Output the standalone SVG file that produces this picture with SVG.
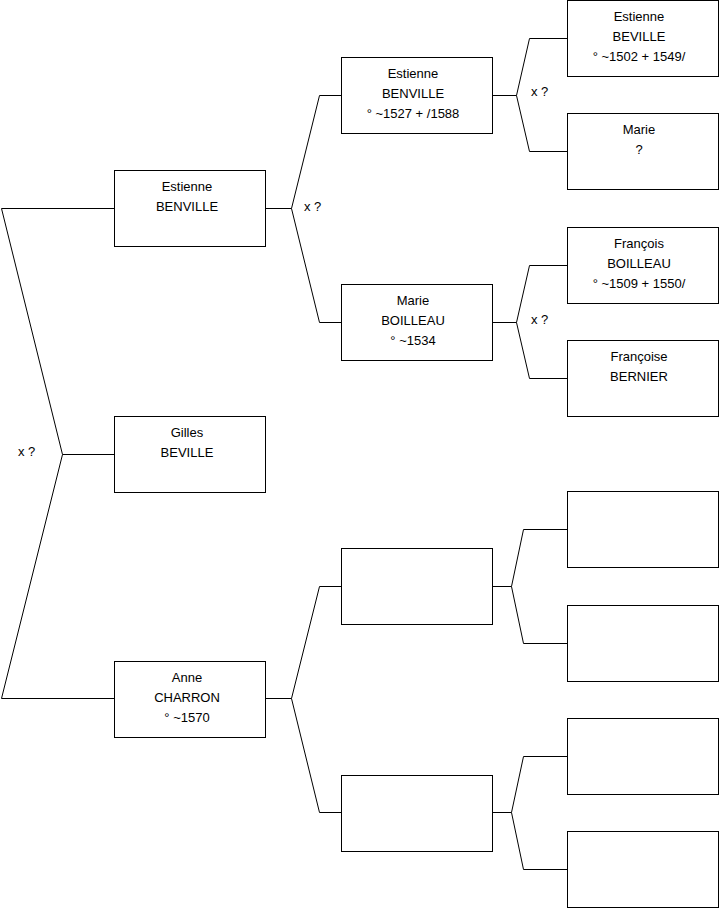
<svg xmlns="http://www.w3.org/2000/svg" width="719" height="908" viewBox="0 0 719 908">
<style>
rect.b{fill:#fff;stroke:#000;stroke-width:1}
text{font-family:"Liberation Sans",Arial,sans-serif;font-size:13px;fill:#000}
text.c{text-anchor:middle}
.l{fill:none;stroke:#000;stroke-width:1}
</style>
<rect width="719" height="908" fill="#fff"/>
<g id="connectors">
<path class="l" d="M114.5,208.5 H1.5 L62.5,454.5 L1.5,698.5 H114.5 M62.5,454.5 H114.5"/>
<path class="l" d="M265.5,208.5 H291.5 M319.5,95.5 H341 M319.5,95.5 L291.5,208.5 L319.5,322.5 H341"/>
<path class="l" d="M265.5,698.5 H291.5 M341,586.5 H319.5 L291.5,698.5 L319.5,812.5 H341"/>
<path class="l" d="M492.5,95.5 H516.5 M567,38.5 H529.5 L516.5,95.5 L529.5,151.5 H567"/>
<path class="l" d="M492.5,322.5 H516.5 M567,265.5 H529.5 L516.5,322.5 L529.5,378.5 H567"/>
<path class="l" d="M492.5,586.5 H511.5 M567,529.5 H523.5 L511.5,586.5 L523.5,643.5 H567"/>
<path class="l" d="M492.5,812.5 H511.5 M567,756.5 H523.5 L511.5,812.5 L523.5,869.5 H567"/>
<text x="18" y="456">x ?</text>
<text x="304" y="211">x ?</text>
<text x="531" y="96">x ?</text>
<text x="531" y="324">x ?</text>
</g>
<g id="n1"><rect class="b" x="114.5" y="170.5" width="151" height="76"/><text class="c" x="187" y="191">Estienne</text><text class="c" x="187" y="211">BENVILLE</text></g>
<g id="n2"><rect class="b" x="114.5" y="416.5" width="151" height="76"/><text class="c" x="187" y="437">Gilles</text><text class="c" x="187" y="457">BEVILLE</text></g>
<g id="n3"><rect class="b" x="114.5" y="661.5" width="151" height="76"/><text class="c" x="187" y="682">Anne</text><text class="c" x="187" y="702">CHARRON</text><text class="c" x="187" y="722">° ~1570</text></g>
<g id="n4"><rect class="b" x="341.5" y="57.5" width="151" height="76"/><text class="c" x="413" y="78">Estienne</text><text class="c" x="413" y="98">BENVILLE</text><text class="c" x="413" y="118">° ~1527 + /1588</text></g>
<g id="n5"><rect class="b" x="341.5" y="284.5" width="151" height="76"/><text class="c" x="413" y="305">Marie</text><text class="c" x="413" y="325">BOILLEAU</text><text class="c" x="413" y="345">° ~1534</text></g>
<g id="n6"><rect class="b" x="341.5" y="548.5" width="151" height="76"/></g>
<g id="n7"><rect class="b" x="341.5" y="775.5" width="151" height="76"/></g>
<g id="n8"><rect class="b" x="567.5" y="0.5" width="151" height="76"/><text class="c" x="639" y="21">Estienne</text><text class="c" x="639" y="41">BEVILLE</text><text class="c" x="639" y="61">° ~1502 + 1549/</text></g>
<g id="n9"><rect class="b" x="567.5" y="113.5" width="151" height="76"/><text class="c" x="639" y="134">Marie</text><text class="c" x="639" y="154">?</text></g>
<g id="n10"><rect class="b" x="567.5" y="227.5" width="151" height="76"/><text class="c" x="639" y="248">François</text><text class="c" x="639" y="268">BOILLEAU</text><text class="c" x="639" y="288">° ~1509 + 1550/</text></g>
<g id="n11"><rect class="b" x="567.5" y="340.5" width="151" height="76"/><text class="c" x="639" y="361">Françoise</text><text class="c" x="639" y="381">BERNIER</text></g>
<g id="n12"><rect class="b" x="567.5" y="491.5" width="151" height="76"/></g>
<g id="n13"><rect class="b" x="567.5" y="605.5" width="151" height="76"/></g>
<g id="n14"><rect class="b" x="567.5" y="718.5" width="151" height="76"/></g>
<g id="n15"><rect class="b" x="567.5" y="831.5" width="151" height="76"/></g>
</svg>
